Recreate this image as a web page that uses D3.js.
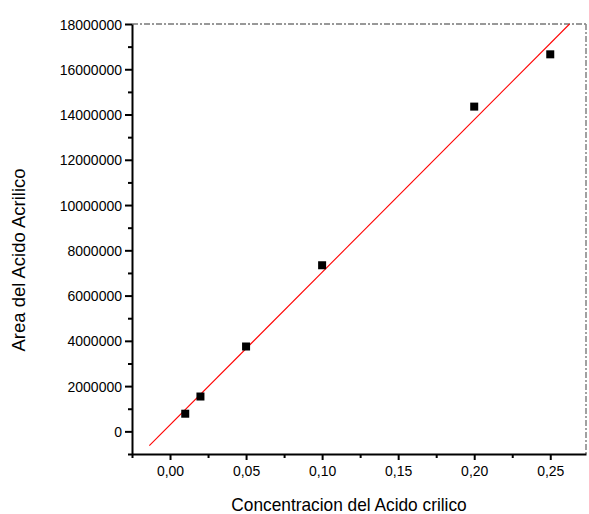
<!DOCTYPE html>
<html>
<head>
<meta charset="utf-8">
<script src="https://cdn.jsdelivr.net/npm/d3@7"></script>
<style>
  html, body { margin: 0; padding: 0; background: #fff; }
  svg { display: block; font-family: "Liberation Sans", Arial, sans-serif; }
</style>
</head>
<body>
<svg id="chart" width="589" height="514"></svg>
<script>
// Calibration data: concentration of acrylic acid vs. peak area
const concentration = [0.01, 0.02, 0.05, 0.10, 0.20, 0.25];
const area = [780000, 1540000, 3750000, 7340000, 14350000, 16660000];

// Linear fit segment (start and end points)
const fitX = [-0.0136, 0.2627];
const fitY = [-630000, 18000000];

// Axis ticks
const xTicks = [0, 0.05, 0.10, 0.15, 0.20, 0.25];
const xMinorTicks = [-0.025, 0.025, 0.075, 0.125, 0.175, 0.225];
const yTicks = [0, 2000000, 4000000, 6000000, 8000000, 10000000, 12000000, 14000000, 16000000, 18000000];
const yMinorTicks = [-1000000, 1000000, 3000000, 5000000, 7000000, 9000000, 11000000, 13000000, 15000000, 17000000];

const xTitle = "Concentracion del Acido crilico";
const yTitle = "Area del Acido Acrilico";

const svg = d3.select("#chart");
const plotLeft = 132, plotRight = 586, plotTop = 24, plotBottom = 454;
const stretch = 1.08; // glyphs are drawn slightly taller than wide

const x = d3.scaleLinear().domain([-0.025, 0.2735]).range([plotLeft, plotRight]);
const y = d3.scaleLinear().domain([-1000000, 18000000]).range([plotBottom, plotTop]);

// Frame: dash-dot top and right edges
svg.append("line")
  .attr("x1", plotLeft).attr("x2", plotRight).attr("y1", plotTop).attr("y2", plotTop)
  .attr("stroke", "#333").attr("stroke-width", 1)
  .attr("stroke-dasharray", "6,2,2,2");
svg.append("line")
  .attr("x1", plotRight).attr("x2", plotRight).attr("y1", plotTop).attr("y2", plotBottom)
  .attr("stroke", "#8a8a8a").attr("stroke-width", 1.6)
  .attr("stroke-dasharray", "6,2,2,2");

// Fit line
svg.append("line")
  .attr("x1", x(fitX[0])).attr("y1", y(fitY[0]))
  .attr("x2", x(fitX[1])).attr("y2", y(fitY[1]))
  .attr("stroke", "#ff0000").attr("stroke-width", 1.1);

// Data points
const sq = 8;
svg.append("g").selectAll("rect")
  .data(concentration.map((c, i) => [c, area[i]]))
  .join("rect")
  .attr("x", d => x(d[0]) - sq / 2)
  .attr("y", d => y(d[1]) - sq / 2)
  .attr("width", sq).attr("height", sq)
  .attr("fill", "#000");

const fmtX = v => d3.format(".2f")(v).replace(".", ",");

// X axis (major + minor)
const gx = svg.append("g").attr("transform", `translate(0,${plotBottom})`)
  .call(d3.axisBottom(x).tickValues(xTicks).tickFormat(fmtX)
    .tickSize(6).tickSizeOuter(0).tickPadding(6));
svg.append("g").attr("transform", `translate(0,${plotBottom})`)
  .call(d3.axisBottom(x).tickValues(xMinorTicks).tickFormat("")
    .tickSize(4).tickSizeOuter(0))
  .select(".domain").remove();

// Y axis (major + minor)
const gy = svg.append("g").attr("transform", `translate(${plotLeft},0)`)
  .call(d3.axisLeft(y).tickValues(yTicks).tickFormat(d3.format("d"))
    .tickSize(7).tickSizeOuter(0).tickPadding(3));
svg.append("g").attr("transform", `translate(${plotLeft},0)`)
  .call(d3.axisLeft(y).tickValues(yMinorTicks).tickFormat("")
    .tickSize(4).tickSizeOuter(0))
  .select(".domain").remove();

svg.selectAll(".domain").attr("stroke", "#000").attr("stroke-width", 2);
svg.selectAll(".tick line").attr("stroke", "#000").attr("stroke-width", 2);
svg.selectAll(".tick text")
  .attr("font-family", "'Liberation Sans', Arial, sans-serif")
  .attr("font-size", 14).attr("fill", "#000");

// Stretch tick labels vertically about their own baseline position
gx.selectAll(".tick text").each(function () {
  const t = d3.select(this);
  const ty = +t.attr("y");
  t.attr("y", 0).attr("dy", null)
    .attr("transform", `translate(0,${ty + 0.71 * 14}) scale(1,${stretch})`);
});
gy.selectAll(".tick text").each(function () {
  const t = d3.select(this);
  t.attr("dy", null)
    .attr("transform", `translate(0,${0.36 * 14}) scale(1,${stretch})`);
});

// Axis titles
svg.append("text")
  .attr("transform", `translate(349,511) scale(1,1.1)`)
  .attr("text-anchor", "middle")
  .attr("font-size", 17.3).attr("fill", "#000")
  .text(xTitle);
svg.append("text")
  .attr("transform", "translate(25,260) rotate(-90)")
  .attr("text-anchor", "middle")
  .attr("font-size", 18.5).attr("fill", "#000")
  .text(yTitle);
</script>
</body>
</html>
